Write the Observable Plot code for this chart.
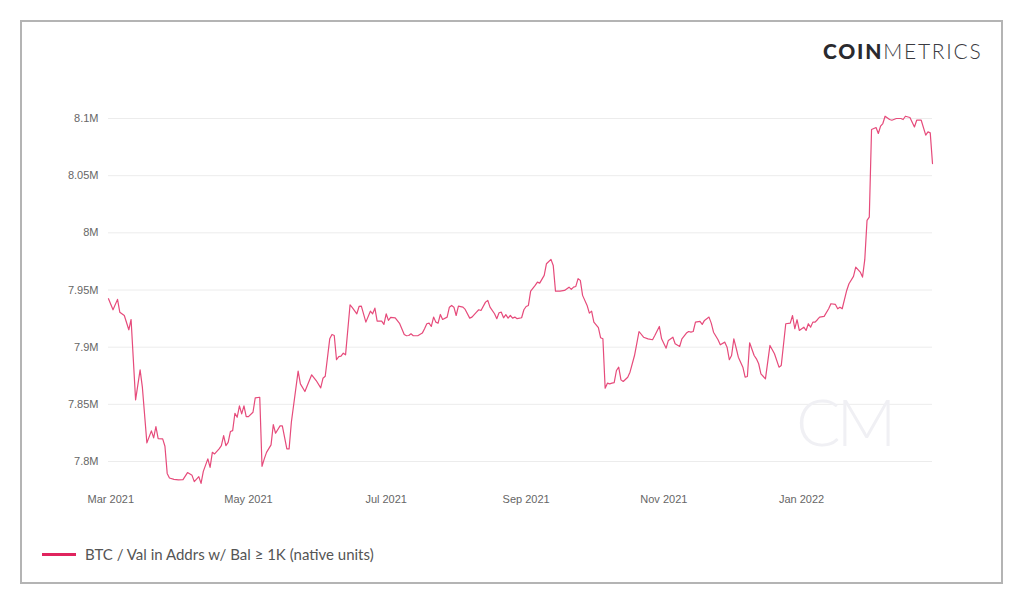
<!DOCTYPE html>
<html>
<head>
<meta charset="utf-8">
<script src="https://cdn.jsdelivr.net/npm/d3@7"></script>
<script src="https://cdn.jsdelivr.net/npm/@observablehq/plot@0.6"></script>
<style>
  html, body { margin: 0; padding: 0; background: #fff; }
  #wrap { position: relative; width: 1024px; height: 607px; overflow: hidden; }
  #frame { position: absolute; left: 20px; top: 20px; width: 979px; height: 560px; border: 2px solid #b4b4b4; }
  #chart { position: absolute; left: 0; top: 0; }
  #logo { position: absolute; left: 823px; top: 38px; font-family: Lato, "Open Sans", sans-serif; font-size: 21px; letter-spacing: 1.75px; color: #2a2a2e; white-space: nowrap; }
  #logo b { font-weight: 900; }
  #logo span { font-weight: 300; color: #3a3a40; }
  #watermark { position: absolute; left: 796px; top: 381px; font-family: Lato, sans-serif; font-weight: 300; font-size: 66px; color: #f0f0f4; letter-spacing: -4px; }
  #legend { position: absolute; left: 42px; top: 545px; display: flex; align-items: center; font-family: Lato, "Open Sans", sans-serif; font-size: 15px; color: #555; white-space: nowrap; }
  #legend .sw { width: 34px; height: 3px; background: #e0245e; margin-right: 9px; }
</style>
</head>
<body>
<div id="wrap">
  <div id="frame"></div>
  <div id="chart"></div>
  <div id="watermark">CM</div>
  <div id="logo"><b>COIN</b><span>METRICS</span></div>
  <div id="legend"><div class="sw"></div><div id="legendText"></div></div>
</div>
<script>
const seriesName = "BTC / Val in Addrs w/ Bal \u2265 1K (native units)";

const dates = [
"2021-02-28","2021-03-02","2021-03-04","2021-03-05","2021-03-07","2021-03-09","2021-03-10","2021-03-12","2021-03-14","2021-03-15",
"2021-03-17","2021-03-19","2021-03-20","2021-03-21","2021-03-22","2021-03-24","2021-03-25","2021-03-26","2021-03-27","2021-03-29",
"2021-03-31","2021-04-02","2021-04-04","2021-04-06","2021-04-07","2021-04-09","2021-04-10","2021-04-11","2021-04-13","2021-04-14",
"2021-04-15","2021-04-16","2021-04-18","2021-04-19","2021-04-20","2021-04-21","2021-04-22","2021-04-23","2021-04-24","2021-04-25",
"2021-04-26","2021-04-27","2021-04-28","2021-04-29","2021-04-30","2021-05-01","2021-05-03","2021-05-04","2021-05-06","2021-05-07",
"2021-05-08","2021-05-09","2021-05-11","2021-05-12","2021-05-13","2021-05-15","2021-05-16","2021-05-18","2021-05-19","2021-05-20",
"2021-05-23","2021-05-24","2021-05-26","2021-05-29","2021-05-31","2021-06-02","2021-06-03","2021-06-04","2021-06-06","2021-06-07",
"2021-06-08","2021-06-09","2021-06-10","2021-06-11","2021-06-12","2021-06-13","2021-06-15","2021-06-16","2021-06-18","2021-06-19",
"2021-06-20","2021-06-22","2021-06-24","2021-06-25","2021-06-26","2021-06-27","2021-06-29","2021-06-30","2021-07-01","2021-07-02",
"2021-07-03","2021-07-05","2021-07-07","2021-07-09","2021-07-10","2021-07-11","2021-07-12","2021-07-13","2021-07-15","2021-07-17",
"2021-07-18","2021-07-19","2021-07-20","2021-07-21","2021-07-22","2021-07-23","2021-07-24","2021-07-25","2021-07-26","2021-07-28",
"2021-07-29","2021-07-30","2021-07-31","2021-08-01","2021-08-02","2021-08-04","2021-08-05","2021-08-07","2021-08-08","2021-08-10",
"2021-08-11","2021-08-12","2021-08-14","2021-08-15","2021-08-16","2021-08-18","2021-08-19","2021-08-20","2021-08-21","2021-08-22",
"2021-08-23","2021-08-24","2021-08-25","2021-08-26","2021-08-27","2021-08-28","2021-08-30","2021-08-31","2021-09-01","2021-09-02",
"2021-09-03","2021-09-05","2021-09-06","2021-09-07","2021-09-09","2021-09-10","2021-09-12","2021-09-13","2021-09-14","2021-09-16",
"2021-09-18","2021-09-20","2021-09-21","2021-09-22","2021-09-23","2021-09-24","2021-09-25","2021-09-26","2021-09-28","2021-09-29",
"2021-09-30","2021-10-01","2021-10-03","2021-10-04","2021-10-05","2021-10-06","2021-10-07","2021-10-08","2021-10-09","2021-10-10",
"2021-10-11","2021-10-12","2021-10-13","2021-10-14","2021-10-16","2021-10-17","2021-10-19","2021-10-20","2021-10-21","2021-10-23",
"2021-10-25","2021-10-27","2021-10-28","2021-10-30","2021-10-31","2021-11-02","2021-11-03","2021-11-05","2021-11-06","2021-11-08",
"2021-11-09","2021-11-11","2021-11-12","2021-11-13","2021-11-14","2021-11-15","2021-11-17","2021-11-18","2021-11-19","2021-11-21",
"2021-11-22","2021-11-23","2021-11-25","2021-11-26","2021-11-28","2021-11-29","2021-11-30","2021-12-01","2021-12-02","2021-12-03",
"2021-12-04","2021-12-06","2021-12-07","2021-12-08","2021-12-09","2021-12-11","2021-12-12","2021-12-13","2021-12-14","2021-12-16",
"2021-12-18","2021-12-20","2021-12-22","2021-12-23","2021-12-25","2021-12-27","2021-12-28","2021-12-29","2021-12-30","2021-12-31",
"2022-01-02","2022-01-03","2022-01-04","2022-01-05","2022-01-06","2022-01-07","2022-01-08","2022-01-09","2022-01-11","2022-01-13",
"2022-01-14","2022-01-16","2022-01-17","2022-01-18","2022-01-19","2022-01-21","2022-01-22","2022-01-24","2022-01-25","2022-01-27",
"2022-01-28","2022-01-29","2022-01-30","2022-01-31","2022-02-01","2022-02-03","2022-02-04","2022-02-05","2022-02-06","2022-02-07",
"2022-02-09","2022-02-10","2022-02-12","2022-02-14","2022-02-15","2022-02-16","2022-02-18","2022-02-20","2022-02-21","2022-02-23",
"2022-02-25","2022-02-26","2022-02-27","2022-02-28"
];

// values in millions of BTC
const values = [
7.9424,7.9327,7.9418,7.9306,7.9277,7.9152,7.9242,7.8539,7.8802,7.8650,
7.8163,7.8268,7.8207,7.8305,7.8200,7.8198,7.8133,7.7896,7.7856,7.7844,
7.7839,7.7841,7.7903,7.7879,7.7824,7.7868,7.7809,7.7914,7.8023,7.7949,
7.8080,7.8066,7.8110,7.8139,7.8227,7.8139,7.8168,7.8262,7.8270,7.8422,
7.8387,7.8487,7.8417,7.8487,7.8393,7.8393,7.8431,7.8557,7.8562,7.7958,
7.8023,7.8080,7.8145,7.8323,7.8247,7.8312,7.8312,7.8110,7.8110,7.8343,
7.8790,7.8679,7.8612,7.8758,7.8708,7.8644,7.8728,7.8746,7.9073,7.9111,
7.9102,7.8890,7.8918,7.8921,7.8947,7.8933,7.9371,7.9345,7.9292,7.9356,
7.9359,7.9219,7.9315,7.9292,7.9341,7.9228,7.9228,7.9199,7.9292,7.9234,
7.9260,7.9257,7.9205,7.9111,7.9100,7.9102,7.9117,7.9100,7.9100,7.9123,
7.9161,7.9205,7.9210,7.9181,7.9263,7.9219,7.9210,7.9286,7.9242,7.9263,
7.9350,7.9365,7.9350,7.9277,7.9359,7.9350,7.9330,7.9254,7.9263,7.9306,
7.9327,7.9321,7.9394,7.9409,7.9350,7.9292,7.9249,7.9301,7.9306,7.9257,
7.9284,7.9254,7.9277,7.9254,7.9263,7.9249,7.9257,7.9327,7.9356,7.9365,
7.9490,7.9540,7.9569,7.9560,7.9628,7.9730,7.9768,7.9715,7.9490,7.9490,
7.9496,7.9525,7.9505,7.9525,7.9531,7.9599,7.9584,7.9453,7.9365,7.9298,
7.9315,7.9219,7.9170,7.9082,7.9073,7.8641,7.8685,7.8679,7.8685,7.8690,
7.8796,7.8825,7.8714,7.8700,7.8737,7.8781,7.8927,7.9030,7.9137,7.9087,
7.9073,7.9065,7.9102,7.9181,7.9073,7.8991,7.9059,7.9087,7.9030,7.9006,
7.9073,7.9123,7.9137,7.9131,7.9137,7.9219,7.9225,7.9199,7.9234,7.9263,
7.9210,7.9131,7.9065,7.9021,7.9044,7.9000,7.8890,7.8927,7.9073,7.8995,
7.8912,7.8825,7.8737,7.8743,7.9038,7.8927,7.8898,7.8855,7.8767,7.8723,
7.9015,7.8942,7.8825,7.8840,7.9205,7.9210,7.9277,7.9161,7.9240,7.9146,
7.9175,7.9146,7.9205,7.9175,7.9219,7.9219,7.9240,7.9263,7.9269,7.9336,
7.9380,7.9374,7.9336,7.9350,7.9336,7.9496,7.9555,7.9619,7.9700,7.9657,
7.9613,7.9765,8.0109,8.0138,8.0904,8.0921,8.0869,8.0933,8.0956,8.1020,
8.0991,8.0985,8.1000,8.1000,8.0991,8.1020,8.1009,8.0926,8.0985,8.0985,
8.0854,8.0883,8.0874,8.0606
];

const yTicks = [7.8, 7.85, 7.9, 7.95, 8.0, 8.05, 8.1];
const xTickDates = ["2021-03-01", "2021-05-01", "2021-07-01", "2021-09-01", "2021-11-01", "2022-01-01"];
const xDomain = ["2021-02-28", "2022-02-28"];

const data = dates.map((d, i) => ({date: new Date(d + "T00:00:00Z"), value: values[i]}));
const toDate = s => new Date(s + "T00:00:00Z");

const chart = Plot.plot({
  width: 1024,
  height: 607,
  marginLeft: 108,
  marginRight: 92,
  marginTop: 118,
  marginBottom: 146,
  style: {fontFamily: "'Liberation Sans', Arial, sans-serif", fontSize: "11px", color: "#666", background: "transparent", overflow: "visible"},
  x: {type: "utc", domain: xDomain.map(toDate)},
  y: {domain: [7.8, 8.1]},
  marks: [
    Plot.ruleY(yTicks, {stroke: "#ececec", strokeWidth: 1}),
    Plot.axisY({ticks: yTicks, tickSize: 0, tickPadding: 10, label: null, tickFormat: d => `${+d.toFixed(2)}M`}),
    Plot.axisX({ticks: xTickDates.map(toDate), tickSize: 0, tickPadding: 34, label: null, tickFormat: d3.utcFormat("%b %Y")}),
    Plot.lineY(data, {x: "date", y: "value", stroke: "#e64b7b", strokeWidth: 1.2})
  ]
});
document.getElementById("chart").appendChild(chart);
document.getElementById("legendText").textContent = seriesName;
</script>
</body>
</html>
